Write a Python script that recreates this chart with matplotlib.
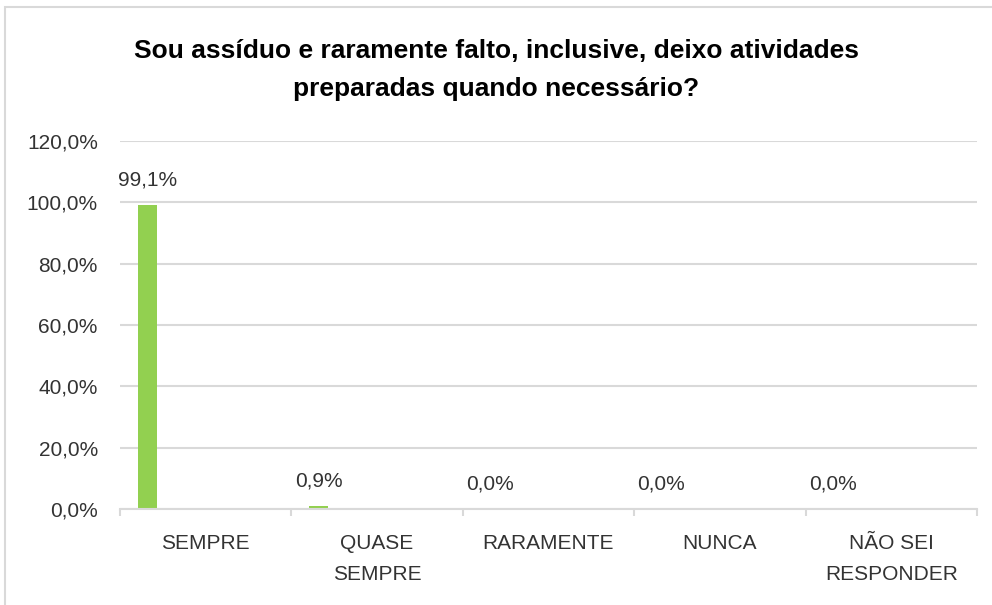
import matplotlib.pyplot as plt
from matplotlib.patches import Rectangle
import numpy as np

categorias = ['SEMPRE', 'QUASE\nSEMPRE', 'RARAMENTE', 'NUNCA', 'NÃO SEI\nRESPONDER']
valores = [99.1, 0.9, 0.0, 0.0, 0.0]
rotulos_y = ['0,0%', '20,0%', '40,0%', '60,0%', '80,0%', '100,0%', '120,0%']
titulo = 'Sou assíduo e raramente falto, inclusive, deixo atividades\npreparadas quando necessário?'

plt.rcParams['font.family'] = ['Liberation Sans', 'DejaVu Sans']

fig = plt.figure(figsize=(9.92, 6.05), dpi=100)
# moldura do gráfico
fig.patches.append(Rectangle((5 / 992, -0.01), 1.0, 1 - 7 / 605 + 0.01,
                             transform=fig.transFigure, fill=False,
                             edgecolor='#D9D9D9', linewidth=1.5))

ax = fig.add_axes([120 / 992, 1 - 509 / 605, 857 / 992, 368 / 605])

x = np.arange(len(categorias))
desloc = -0.341
larg = 0.111
ax.bar(x + desloc, valores, width=larg, color='#92D050', zorder=3)

cor_txt = '#333333'
for xi, v in zip(x, valores):
    ax.annotate(f'{v:.1f}%'.replace('.', ','), (xi + desloc, v),
                xytext=(0, 11), textcoords='offset points',
                ha='center', va='bottom', fontsize=15, color=cor_txt)

ax.set_xlim(-0.5, len(categorias) - 0.5)
ax.set_ylim(0, 120)
ax.set_yticks(np.arange(0, 121, 20))
ax.set_yticklabels(rotulos_y)
ax.set_xticks(x)
ax.set_xticklabels(categorias, linespacing=1.8)
ax.set_xticks(np.arange(-0.5, len(categorias), 1), minor=True)

ax.grid(axis='y', color='#D9D9D9', linewidth=1.5, zorder=0)
for s in ['top', 'right', 'left']:
    ax.spines[s].set_visible(False)
ax.spines['bottom'].set_color('#D9D9D9')
ax.spines['bottom'].set_linewidth(1.5)
ax.spines['bottom'].set_zorder(4)

ax.tick_params(axis='y', length=0, pad=16, labelsize=15, labelcolor=cor_txt)
ax.tick_params(axis='x', which='major', length=0, pad=18, labelsize=15,
               labelcolor=cor_txt)
ax.tick_params(axis='x', which='minor', length=5, width=1.5, color='#D9D9D9')

fig.text(0.5, 1 - 70 / 605, titulo, ha='center', va='center', fontsize=19,
         fontweight='bold', color='black', linespacing=1.75)

fig.savefig('out.png', dpi=100)
